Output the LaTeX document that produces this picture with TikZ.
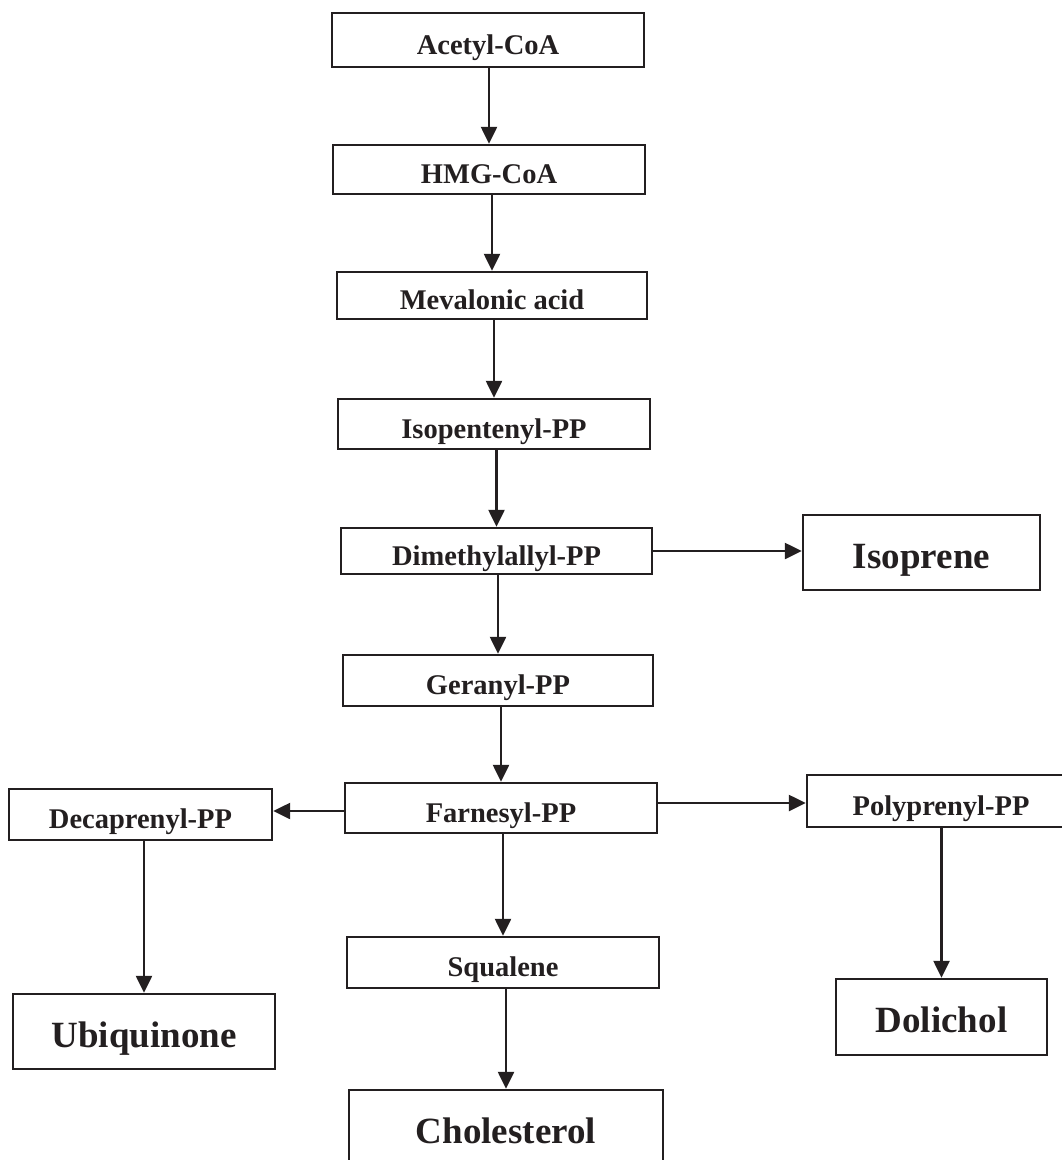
\documentclass[tikz,border=0pt]{standalone}
\usepackage{fontspec}
\setmainfont{Liberation Serif}
\usepackage{tikz}
\usetikzlibrary{arrows.meta,calc}
\definecolor{ink}{HTML}{231F20}

\begin{document}
\begin{tikzpicture}[x=1pt, y=-1pt, >={Triangle[length=17pt,width=16pt]},
  box/.style={draw=ink, line width=2.4pt, inner sep=0pt, text=ink,
    font=\fontsize{28.5}{30}\selectfont\bfseries,
    text height=30pt, text depth=1.4pt},
  bigbox/.style={box, font=\fontsize{37}{40}\selectfont\bfseries,
    text height=33.3pt, text depth=1.8pt},
  flow/.style={->, draw=ink, line width=2.4pt}]
  \useasboundingbox (0,0) rectangle (1062,1160);
  % Main pathway
  \node[box, minimum width=312, minimum height=54] (acetyl) at (488,40) {Acetyl-CoA};
  \node[box, minimum width=312, minimum height=49] (hmg) at (489,169.5) {HMG-CoA};
  \node[box, minimum width=310, minimum height=47] (meva) at (492,295.5) {Mevalonic acid};
  \node[box, minimum width=312, minimum height=50] (ipp) at (494,424) {Isopentenyl-PP};
  \node[box, minimum width=311, minimum height=46] (dmapp) at (496.5,551) {Dimethylallyl-PP};
  \node[box, minimum width=310, minimum height=51] (gpp) at (498,680.5) {Geranyl-PP};
  \node[box, minimum width=312, minimum height=50] (fpp) at (501,808) {Farnesyl-PP};
  \node[box, minimum width=312, minimum height=51] (squal) at (503,962.5) {Squalene};
  \node[bigbox, minimum width=314, minimum height=75] (chol) at (506,1127.5) {Cholesterol};
  % Side branches
  \node[bigbox, minimum width=237, minimum height=75] (iso) at (921.5,552.5) {Isoprene};
  \node[box, minimum width=263, minimum height=51] (deca) at (140.5,814.5) {Decaprenyl-PP};
  \node[bigbox, minimum width=262, minimum height=75] (ubi) at (144,1031.5) {Ubiquinone};
  \node[box, minimum width=268, minimum height=52] (poly) at (941,801) {Polyprenyl-PP};
  \node[bigbox, minimum width=211, minimum height=76] (dol) at (941.5,1017) {Dolichol};
  % Arrows
  \foreach \a/\b in {acetyl/hmg, hmg/meva, meva/ipp, ipp/dmapp, dmapp/gpp,
                     gpp/fpp, fpp/squal, squal/chol, deca/ubi, poly/dol}
    \draw[flow] (\b.north |- \a.south) -- (\b.north);
  \draw[flow] (dmapp.east) -- (dmapp.east -| iso.west);
  \draw[flow] (fpp.west |- 0,811) -- (deca.east |- 0,811);
  \draw[flow] (fpp.east |- 0,803) -- (poly.west |- 0,803);
\end{tikzpicture}
\end{document}
